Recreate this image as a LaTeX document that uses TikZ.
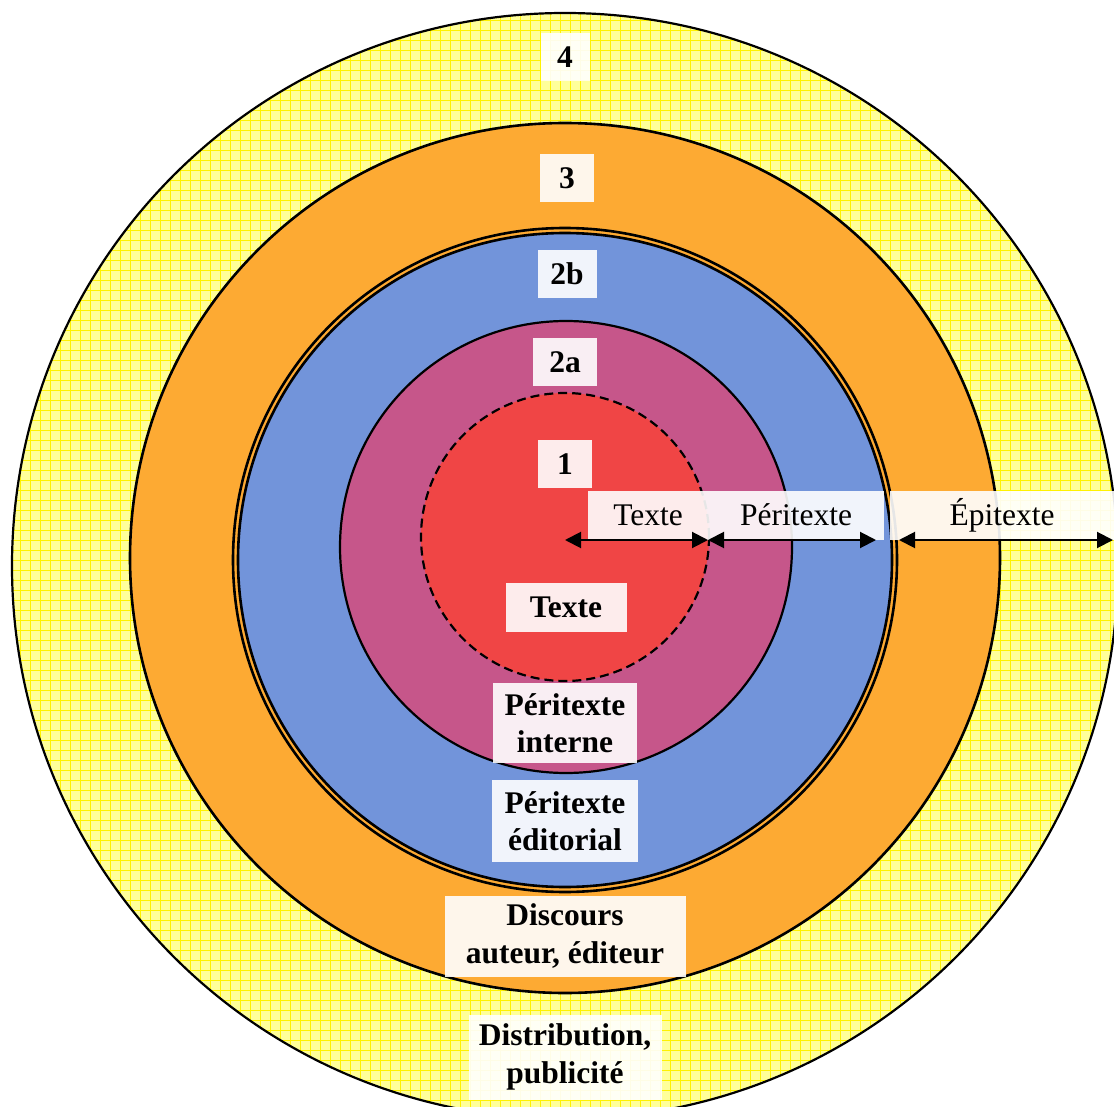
\documentclass[tikz,border=0pt]{standalone}
\usepackage{fontspec}
\setmainfont{Liberation Serif}
\usetikzlibrary{arrows.meta}

\definecolor{jaune}{HTML}{FFFF9A}
\definecolor{orangec}{HTML}{FDAA33}
\definecolor{bleu}{HTML}{7294DA}
\definecolor{mauve}{HTML}{C6568A}
\definecolor{rouge}{HTML}{F04545}

\tikzset{
  etiquette/.style={fill=white, fill opacity=0.9, text opacity=1, inner sep=0pt,
    align=center, font=\bfseries\fontsize{31.5}{37.5}\selectfont},
  portee/.style={fill=white, fill opacity=0.9, text opacity=1, inner sep=0pt,
    minimum height=49pt, font=\fontsize{31.5}{37.5}\selectfont},
  fleche/.style={{Triangle[length=16pt,width=16pt]}-{Triangle[length=16pt,width=16pt]}, line width=2pt},
  cercle/.style={draw=black, line width=2.2pt}
}

\begin{document}
\begin{tikzpicture}[x=1pt, y=-1pt]
  \useasboundingbox (0,0) rectangle (1114,1107);
  \clip (0,0) rectangle (1114,1107);

  % Centres des cercles
  \coordinate (c4) at (565,566);
  \coordinate (c3) at (565,558);
  \coordinate (c2b) at (565,560);
  \coordinate (c2a) at (566,547);
  \coordinate (c1) at (565,537);

  % Cercle 4 (quadrillage jaune)
  \begin{scope}
    \clip (c4) circle[radius=553pt];
    \fill[jaune] (0,0) rectangle (1114,1120);
    \foreach \i in {0,10,...,1120} {
      \draw[yellow, line width=0.8pt] (\i,0) -- (\i,1120);
      \draw[yellow, line width=0.8pt] (0,\i) -- (1114,\i);
    }
  \end{scope}
  \draw[cercle] (c4) circle[radius=553pt];

  % Cercles 3, 2b, 2a, 1
  \filldraw[cercle, fill=orangec, line width=2.6pt] (c3) circle[radius=435pt];
  \filldraw[cercle, fill=orangec, line width=2.6pt] (c2b) circle[radius=332pt];
  \filldraw[cercle, fill=bleu, line width=2.6pt] (c2b) circle[radius=327pt];
  \filldraw[cercle, fill=mauve] (c2a) circle[radius=226pt];
  \filldraw[cercle, fill=rouge, dash pattern=on 9pt off 5pt] (c1) circle[radius=144pt];

  % Etiquettes
  \node[etiquette, minimum width=49pt, minimum height=48pt] (n4) at (565,57) {4};
  \node[etiquette, minimum width=54pt, minimum height=48pt] (n3) at (567,178) {3};
  \node[etiquette, minimum width=59pt, minimum height=48pt] (n2b) at (567,274) {2b};
  \node[etiquette, minimum width=64pt, minimum height=48pt] (n2a) at (565,362) {2a};
  \node[etiquette, minimum width=54pt, minimum height=48pt] (n1) at (565,464) {1};
  \node[etiquette, minimum width=121pt, minimum height=49pt] (texte) at (566,607) {Texte};
  \node[etiquette, minimum width=144pt, minimum height=80pt] (interne) at (565,723) {Péritexte\\interne};
  \node[etiquette, minimum width=146pt, minimum height=82pt] (editorial) at (565,821) {Péritexte\\éditorial};
  \node[etiquette, minimum width=241pt, minimum height=81pt] (discours) at (565,936) {Discours\\auteur, éditeur};
  \node[etiquette, minimum width=193pt, minimum height=85pt] (distribution) at (565,1057) {Distribution,\\publicité};

  % Portees
  \node[portee, minimum width=120pt] (lbltexte) at (648,515) {Texte};
  \node[portee, minimum width=176pt] (lblperi) at (796,515) {Péritexte};
  \node[portee, minimum width=224pt] (lblepi) at (1002,515) {Épitexte};

  \coordinate (centre) at (565,540);
  \coordinate (bordrouge) at (708,540);
  \coordinate (finperi) at (876,540);
  \coordinate (debepi) at (899,540);
  \coordinate (borddroit) at (1113,540);

  \draw[fleche] (centre) -- (bordrouge);
  \draw[fleche] (bordrouge) -- (finperi);
  \draw[fleche] (debepi) -- (borddroit);
\end{tikzpicture}
\end{document}
